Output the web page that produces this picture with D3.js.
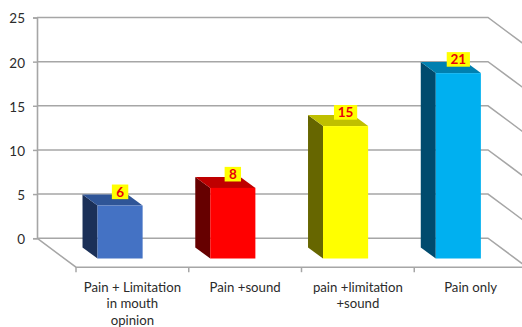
<!DOCTYPE html>
<html>
<head>
<meta charset="utf-8">
<script src="https://cdn.jsdelivr.net/npm/d3@7"></script>
<style>
  html, body { margin: 0; padding: 0; background: #fff; overflow: hidden; }
  svg { display: block; }
  text { font-family: Lato, "Open Sans", sans-serif; }
</style>
</head>
<body>
<svg id="chart" width="522" height="327"></svg>
<script>
const categories = ["Pain + Limitation\nin mouth\nopinion", "Pain +sound", "pain +limitation\n+sound", "Pain only"];
const values = [6, 8, 15, 21];
const frontColors = ["#4472c4", "#ff0000", "#ffff00", "#00b0f0"];
const topColors = ["#2f5597", "#bf0000", "#bfbf00", "#0080b0"];
const sideColors = ["#1b3058", "#660000", "#666600", "#004b6e"];
const yTicks = [0, 5, 10, 15, 20, 25];

const gridColor = "#a6a6a6";
const svg = d3.select("#chart");

// Back wall, floor and projection depth of the 3-D box
const wallLeft = 37, wallRight = 488;
const floorDX = 39, floorDY = 29;
const barDX = 15, barDY = 11;
const barShift = -12.3;   // bars sit in front of the wall, left of the floor band centre
const baseDrop = 20.3;    // front bottom edge of a bar, below the wall's zero line

const y = d3.scaleLinear().domain([0, 25]).range([238.2, 17.5]);
const x = d3.scaleBand().domain(categories)
  .range([wallLeft + floorDX, wallRight + floorDX])
  .paddingInner(0.6).paddingOuter(0.3);

// Wall gridlines and the y axis
const yAxis = svg.append("g")
  .attr("transform", `translate(${wallLeft},0)`)
  .call(d3.axisLeft(y).tickValues(yTicks).tickSize(4).tickPadding(8).tickFormat(d3.format("d")));
yAxis.select(".domain").attr("stroke", gridColor).attr("stroke-width", 1.6);
yAxis.selectAll(".tick line").attr("stroke", gridColor).attr("stroke-width", 1.5);
yAxis.selectAll(".tick text")
  .attr("fill", "#2b2b2b").attr("font-size", 13.5).attr("dy", "0.4em")
  .style("font-family", "Lato, sans-serif");

const grid = svg.append("g").attr("fill", "none").attr("stroke", gridColor).attr("stroke-width", 1.5);
grid.selectAll("path.wall").data(yTicks).join("path").attr("class", "wall")
  .attr("d", d => `M${wallLeft},${y(d)}H${wallRight}l${floorDX},${floorDY}`);

// Floor: left edge, front edge with category ticks
grid.append("path")
  .attr("d", `M${wallLeft},${y(0)}l${floorDX},${floorDY}H${wallRight + floorDX}`);

const floorY = y(0) + floorDY;
const xAxis = svg.append("g")
  .attr("transform", `translate(0,${floorY})`)
  .call(d3.axisBottom(x).tickSize(0).tickFormat(""));
xAxis.select(".domain").remove();
xAxis.selectAll(".tick").remove();
const step = x.step();
xAxis.selectAll("line.cat")
  .data(d3.range(categories.length + 1))
  .join("line").attr("class", "cat")
  .attr("x1", i => wallLeft + floorDX + i * step)
  .attr("x2", i => wallLeft + floorDX + i * step)
  .attr("y1", 0).attr("y2", 5)
  .attr("stroke", gridColor).attr("stroke-width", 1.5);

// Category labels, one text line per row
const labelRows = [287, 303.5, 320.2];
const labels = svg.append("g").attr("text-anchor", "middle").attr("fill", "#2b2b2b").attr("font-size", 13.2);
categories.forEach(c => {
  c.split("\n").forEach((line, i) => {
    labels.append("text")
      .attr("x", x(c) + x.bandwidth() / 2)
      .attr("y", labelRows[i])
      .attr("dy", "0.35em")
      .text(line);
  });
});

// Bars: side face, top face, front face
const bars = svg.append("g").selectAll("g").data(values).join("g");
const base = y(0) + baseDrop;
const left = (d, i) => x(categories[i]) + barShift;
const top_ = d => base - (y(0) - y(d));

bars.append("path").attr("fill", (d, i) => sideColors[i])
  .attr("d", (d, i) => `M${left(d, i)},${top_(d)}V${base}l${-barDX},${-barDY}V${top_(d) - barDY}Z`);
bars.append("path").attr("fill", (d, i) => topColors[i])
  .attr("d", (d, i) => `M${left(d, i)},${top_(d)}h${x.bandwidth()}l${-barDX},${-barDY}h${-x.bandwidth()}Z`);
bars.append("rect").attr("fill", (d, i) => frontColors[i])
  .attr("x", left).attr("y", top_)
  .attr("width", x.bandwidth()).attr("height", d => base - top_(d));

// Value tags above each bar
bars.append("rect").attr("fill", "#ffff00")
  .attr("x", (d, i) => left(d, i) + x.bandwidth() / 2 - (d >= 10 ? 11.6 : 8.2))
  .attr("y", d => top_(d) - 21)
  .attr("width", d => d >= 10 ? 23.2 : 16.4)
  .attr("height", 14.6);
bars.append("text")
  .attr("x", (d, i) => left(d, i) + x.bandwidth() / 2)
  .attr("y", d => top_(d) - 13.6)
  .attr("dy", "0.36em")
  .attr("text-anchor", "middle")
  .attr("fill", "#e8000b")
  .attr("font-size", 13.5)
  .attr("font-weight", 700)
  .text(d => d);
</script>
</body>
</html>
